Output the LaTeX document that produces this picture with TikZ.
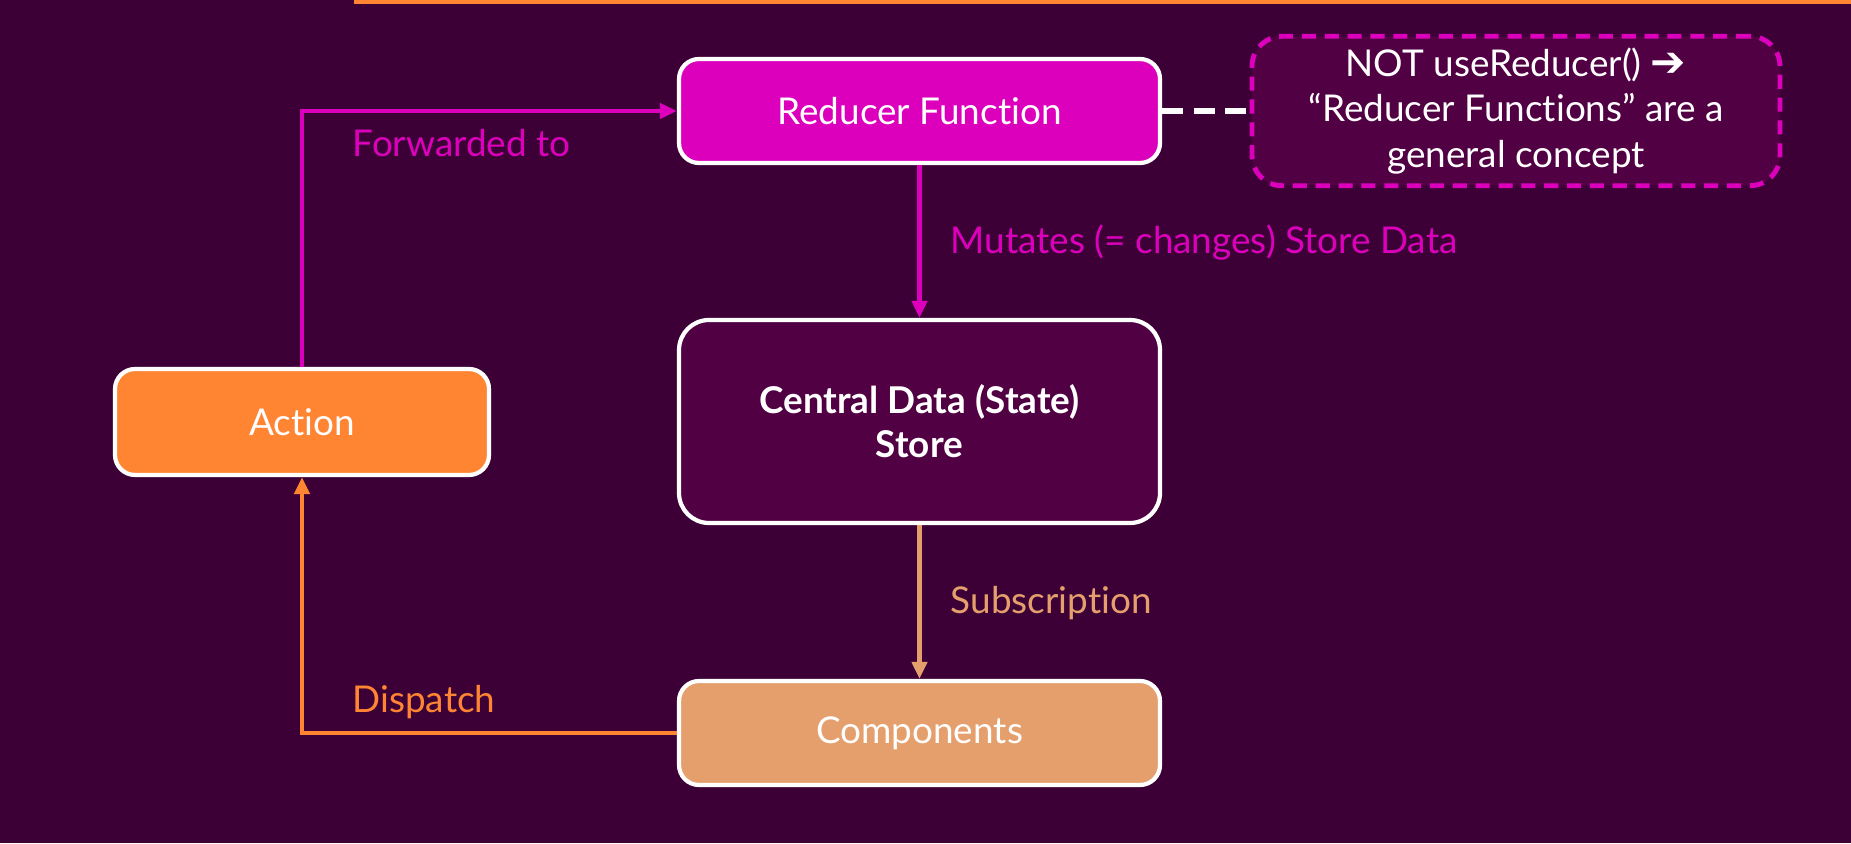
\documentclass[tikz,border=0pt]{standalone}
\usepackage{fontspec}
\setmainfont{Lato}[Ligatures=NoCommon]
\newfontfamily\symfont{DejaVu Sans}
\usetikzlibrary{arrows.meta}

\definecolor{bgpurple}{HTML}{3C0036}
\definecolor{storefill}{HTML}{520044}
\definecolor{reducerpink}{HTML}{DC00BC}
\definecolor{actionorange}{HTML}{FF8533}
\definecolor{comptan}{HTML}{E49F6C}

\tikzset{
  box/.style={draw=white, line width=1.2pt, rounded corners=0.2cm, minimum width=4.81cm,
    minimum height=1.04cm, align=center, text=white, font=\fontsize{10.5}{12.5}\selectfont},
  flow/.style={line width=1.2pt, -{Triangle[length=0.17cm, width=0.15cm]}},
  lbl/.style={anchor=west, inner sep=0pt, font=\fontsize{10.5}{12.5}\selectfont},
}

\begin{document}
\begin{tikzpicture}
        \fill[bgpurple] (0,0) rectangle (18.51,8.43);
        \useasboundingbox (0,0) rectangle (18.51,8.43);
        \draw[actionorange, line width=2pt] (3.54,8.43) -- (18.51,8.43);

        \node[box, fill=reducerpink] (reducer) at (9.195,7.32) {Reducer Function};
        \node[box, fill=storefill, minimum height=2.03cm, rounded corners=0.3cm,
          font=\fontsize{10.5}{12.5}\selectfont\bfseries] (store) at (9.195,4.215) {Central Data (State)\\Store};
        \node[box, fill=comptan] (comp) at (9.195,1.10) {Components};
        \node[box, fill=actionorange, minimum width=3.74cm, minimum height=1.06cm] (action) at (3.02,4.21) {Action};
        \node[box, draw=reducerpink, fill=storefill, dashed, dash pattern=on 4pt off 2.5pt, line width=1.4pt,
          minimum width=5.28cm, minimum height=1.48cm, rounded corners=0.3cm,
          font=\fontsize{10.5}{12.9}\selectfont] (note) at (15.16,7.32)
          {NOT useReducer() {\symfont\bfseries\fontsize{12}{12}\selectfont ➔}\\“Reducer Functions” are a\\general concept};

        \draw[flow, reducerpink] (action.north) |- (reducer.west);
        \draw[flow, reducerpink] (reducer) -- (store);
        \draw[flow, comptan] (store) -- (comp);
        \draw[flow, actionorange] (comp.west) -| (action.south);
        \draw[white, line width=1.6pt, dash pattern=on 6pt off 3pt] (reducer.east) -- (note.west);

        \node[lbl, text=reducerpink] (fwd) at (3.52,7.00) {Forwarded to};
        \node[lbl, text=reducerpink] (mut) at (9.50,6.00) {Mutates (= changes) Store Data};
        \node[lbl, text=comptan] (sub) at (9.50,2.40) {Subscription};
        \node[lbl, text=actionorange] (disp) at (3.52,1.41) {Dispatch};
    \end{tikzpicture}
\end{document}
